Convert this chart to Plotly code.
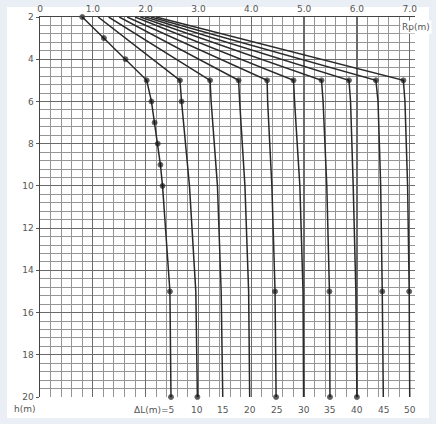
import plotly.graph_objects as go

# ---- data ----
delta_L = [5, 10, 15, 20, 25, 30, 35, 40, 45, 50]

h_dl5 = [2, 3, 4, 5, 6, 7, 8, 9, 10, 15, 20]
R_dl5 = [8.0, 12.1, 16.2, 20.2, 21.1, 21.7, 22.3, 22.8, 23.2, 24.6, 24.8]

h_other = [2, 5, 6, 8, 10, 15, 20]
R_dl10 = [11.0, 26.5, 26.8, 27.6, 28.3, 29.5, 29.8]
R_dl15 = [13.0, 32.2, 32.4, 33.0, 33.6, 34.3, 34.6]
R_dl20 = [15.0, 37.6, 37.8, 38.3, 38.8, 39.5, 39.7]
R_dl25 = [16.5, 43.0, 43.1, 43.5, 43.9, 44.5, 44.7]
R_dl30 = [18.0, 48.0, 48.2, 48.7, 49.2, 49.8, 49.9]
R_dl35 = [19.0, 53.3, 53.6, 54.0, 54.3, 54.8, 54.9]
R_dl40 = [20.0, 58.5, 58.8, 59.1, 59.3, 59.8, 60.0]
R_dl45 = [21.0, 63.6, 64.0, 64.3, 64.5, 64.8, 65.0]
R_dl50 = [22.0, 68.8, 69.1, 69.4, 69.6, 69.9, 70.0]

x_tickvals = [0, 10, 20, 30, 40, 50, 60, 70]
x_ticktext = ["0", "1.0", "2.0", "3.0", "4.0", "5.0", "6.0", "7.0"]
y_tickvals = [2, 4, 6, 8, 10, 12, 14, 16, 18, 20]
dl_labels = ["ΔL(m)=5", "10", "15", "20", "25", "30", "35", "40", "45", "50"]

curves = [
    (h_dl5, R_dl5),
    (h_other, R_dl10),
    (h_other, R_dl15),
    (h_other, R_dl20),
    (h_other, R_dl25),
    (h_other, R_dl30),
    (h_other, R_dl35),
    (h_other, R_dl40),
    (h_other, R_dl45),
    (h_other, R_dl50),
]
# which h levels carry a dot on each curve (style only)
dot_levels = [
    set(h_dl5),
    {5, 6, 20},
    {5},
    {5},
    {5, 15, 20},
    {5},
    {5, 15, 20},
    {5, 20},
    {5, 15},
    {5, 15},
]

fig = go.Figure()
for (hs, rs), dots in zip(curves, dot_levels):
    sizes = [5 if h in dots else 0 for h in hs]
    fig.add_trace(go.Scatter(
        x=rs, y=hs, mode="lines+markers",
        line=dict(color="#2a2a2a", width=1.5),
        marker=dict(color="#111111", size=sizes),
        cliponaxis=False, showlegend=False, hoverinfo="skip",
    ))

W, H = 436, 424
ml, mr, mt, mb = 40, 21, 17, 27
pw, ph = W - ml - mr, H - mt - mb

def px_x(p):
    return (p - ml) / pw

def px_y(p):
    return (H - mb - p) / ph

# white sheet on a pale frame
fig.add_shape(type="rect", xref="paper", yref="paper",
              x0=px_x(7), x1=px_x(429), y0=px_y(7), y1=px_y(418),
              fillcolor="white", line=dict(width=0), layer="below")

grid_font = dict(family="DejaVu Sans", size=9, color="#555555")

fig.update_layout(
    width=W, height=H,
    margin=dict(l=ml, r=mr, t=mt, b=mb, autoexpand=False),
    paper_bgcolor="#e9eff4",
    plot_bgcolor="rgba(0,0,0,0)",
    hovermode=False,
    xaxis=dict(
        side="top", range=[0, 71], tickvals=x_tickvals, ticktext=x_ticktext,
        automargin=False,
        showgrid=True, gridcolor="#6a6a6a", gridwidth=1.2,
        minor=dict(dtick=2, tick0=0, showgrid=True, gridcolor="#959595", gridwidth=1),
        showline=True, linecolor="#444444", linewidth=1.5,
        ticks="", tickfont=grid_font, zeroline=False,
    ),
    yaxis=dict(
        range=[20, 2], tickvals=y_tickvals, automargin=False,
        showgrid=True, gridcolor="#6a6a6a", gridwidth=1.2,
        minor=dict(dtick=0.4, tick0=2, showgrid=True, gridcolor="#959595", gridwidth=1),
        showline=True, linecolor="#444444", linewidth=1.5,
        ticks="outside", ticklen=3, tickcolor="#555555",
        tickfont=grid_font, zeroline=False,
    ),
)

# labels for the ΔL curves along the bottom
for i, ((hs, rs), lab) in enumerate(zip(curves, dl_labels)):
    fig.add_annotation(
        x=rs[-1] + (1.0 if i == 0 else 0), y=px_y(410), xref="x", yref="paper",
        text=lab, showarrow=False, font=grid_font,
        xanchor="right" if i == 0 else "center", yanchor="middle",
    )

fig.add_annotation(x=px_x(432), y=px_y(27), xref="paper", yref="paper",
                   text="Rp(m)", showarrow=False, font=grid_font,
                   xanchor="right", yanchor="middle", bgcolor="white")
fig.add_annotation(x=px_x(12), y=px_y(409), xref="paper", yref="paper",
                   text="h(m)", showarrow=False, font=grid_font,
                   xanchor="left", yanchor="middle")

fig.write_html(
    "out.html",
    config={"displayModeBar": False, "staticPlot": True},
    post_script="document.body.style.margin='0';document.body.style.overflow='hidden';",
)
